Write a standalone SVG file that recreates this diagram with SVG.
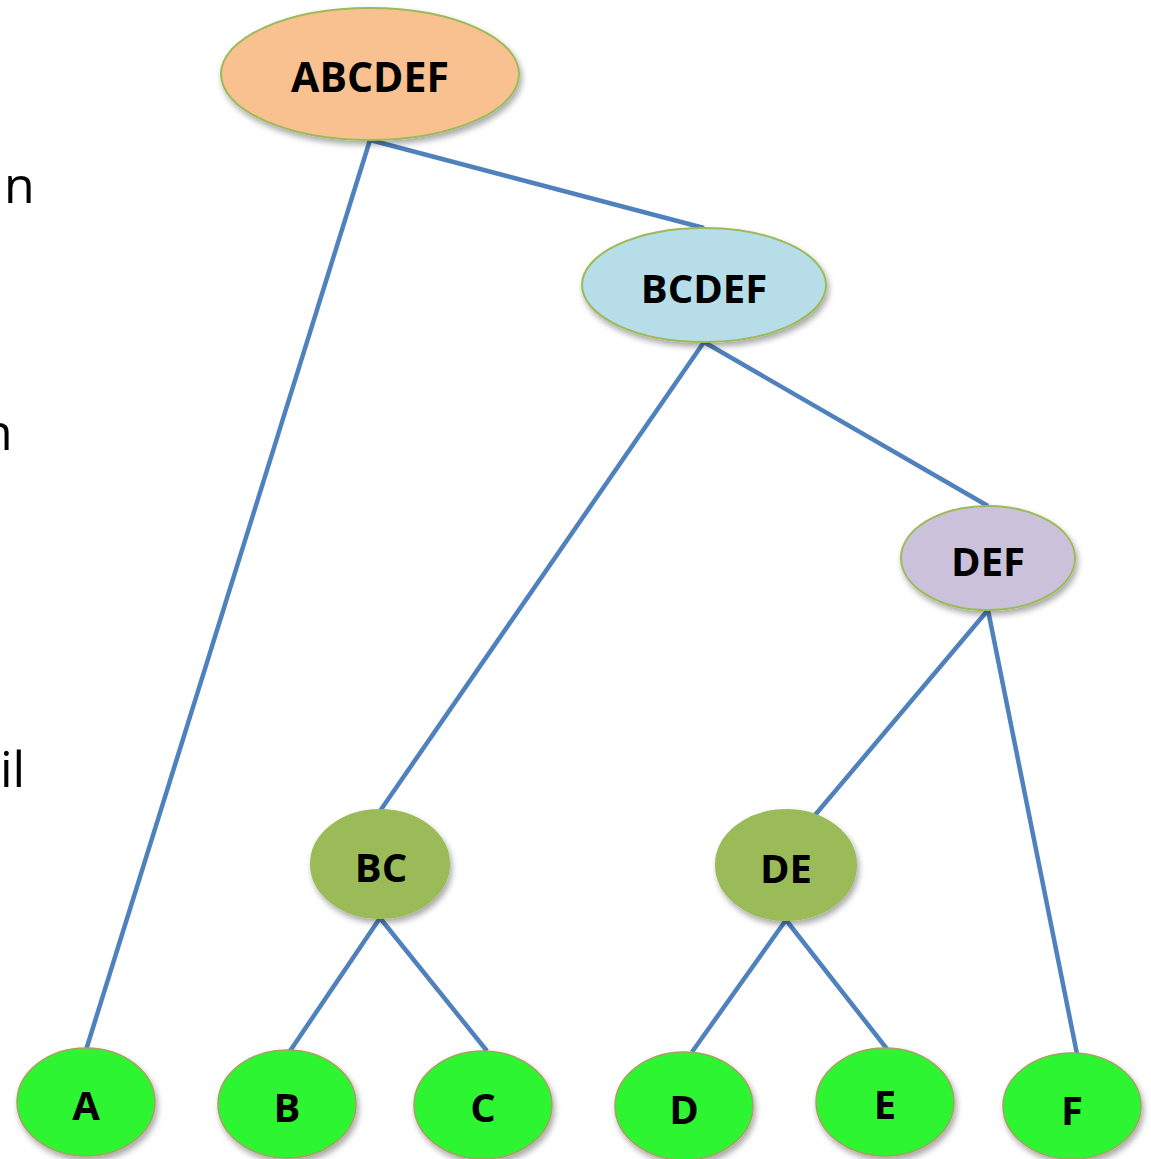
<svg xmlns="http://www.w3.org/2000/svg" width="1151" height="1159" viewBox="0 0 1151 1159">
<defs>
<filter id="sh" x="-20%" y="-20%" width="150%" height="150%">
<feGaussianBlur in="SourceAlpha" stdDeviation="3"/>
<feOffset dx="2" dy="4" result="b"/>
<feComponentTransfer><feFuncA type="linear" slope="0.35"/></feComponentTransfer>
<feMerge><feMergeNode/><feMergeNode in="SourceGraphic"/></feMerge>
</filter>
</defs>
<style>
.n ellipse{stroke:#9BBB59;stroke-width:2;filter:url(#sh)}
.leaf ellipse{fill:#2DF532;stroke:#A8A060;stroke-width:1.5}
.mid ellipse{fill:#9BBB59;stroke:#9BBB59}
.n text{font-family:"Open Sans","Liberation Sans",sans-serif;font-weight:bold;fill:#000;text-anchor:middle;dominant-baseline:central}
.side{font-family:"Open Sans","Liberation Sans",sans-serif;font-size:50px;fill:#000}
#edges line{stroke:#4F81BD;stroke-width:4.5;stroke-linecap:butt}
</style>
<rect width="1151" height="1159" fill="#fff"/>
<text class="side" x="4" y="203">n</text>
<text class="side" x="-18" y="450">n</text>
<text class="side" x="0" y="787">il</text>
<g id="edges">
<line x1="370" y1="140" x2="86" y2="1050"/>
<line x1="370" y1="140" x2="704" y2="228"/>
<line x1="704" y1="342" x2="380" y2="811"/>
<line x1="704" y1="342" x2="988" y2="506"/>
<line x1="988" y1="610" x2="810" y2="821"/>
<line x1="988" y1="610" x2="1077" y2="1054"/>
<line x1="380" y1="918" x2="290" y2="1051"/>
<line x1="380" y1="918" x2="487" y2="1051"/>
<line x1="786" y1="920" x2="692" y2="1052"/>
<line x1="786" y1="920" x2="887" y2="1049"/>
</g>
<g id="node-ABCDEF" class="n"><ellipse cx="370" cy="74" rx="149" ry="66" fill="#F9C090"/><text x="370" y="76" font-size="41">ABCDEF</text></g>
<g id="node-BCDEF" class="n"><ellipse cx="704" cy="285" rx="122" ry="57" fill="#B7DDE8"/><text x="704" y="287" font-size="40">BCDEF</text></g>
<g id="node-DEF" class="n"><ellipse cx="988" cy="558" rx="87" ry="52" fill="#CCC1DA"/><text x="988" y="560" font-size="40">DEF</text></g>
<g id="node-BC" class="n mid"><ellipse cx="380" cy="864" rx="69" ry="54"/><text x="381" y="866" font-size="40">BC</text></g>
<g id="node-DE" class="n mid"><ellipse cx="786" cy="865" rx="70" ry="55"/><text x="786" y="867" font-size="40">DE</text></g>
<g id="node-A" class="n leaf"><ellipse cx="86" cy="1102" rx="69" ry="54"/><text x="86" y="1104" font-size="40">A</text></g>
<g id="node-B" class="n leaf"><ellipse cx="287" cy="1104" rx="69" ry="54"/><text x="287" y="1106" font-size="40">B</text></g>
<g id="node-C" class="n leaf"><ellipse cx="483" cy="1105" rx="69" ry="54"/><text x="483" y="1106" font-size="40">C</text></g>
<g id="node-D" class="n leaf"><ellipse cx="684" cy="1106" rx="69" ry="54"/><text x="684" y="1108" font-size="40">D</text></g>
<g id="node-E" class="n leaf"><ellipse cx="885" cy="1102" rx="69" ry="54"/><text x="885" y="1103" font-size="40">E</text></g>
<g id="node-F" class="n leaf"><ellipse cx="1072" cy="1106" rx="69" ry="53"/><text x="1072" y="1109" font-size="40">F</text></g>
</svg>
